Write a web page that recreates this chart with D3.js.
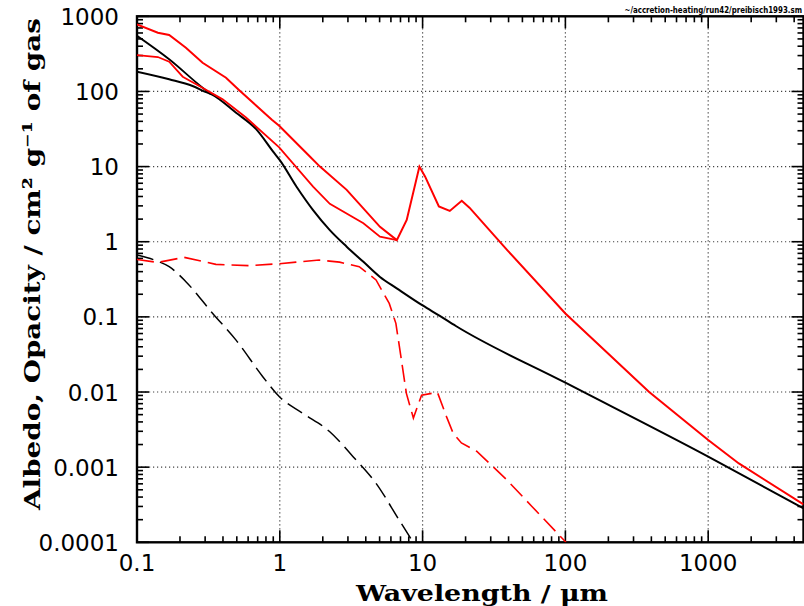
<!DOCTYPE html>
<html><head><meta charset="utf-8">
<script src="https://d3js.org/d3.v7.min.js"></script>
<style>body{margin:0;background:#fff}svg{display:block}</style>
</head><body>
<svg id="c" width="804" height="606"></svg>
<script>
// ---- data ----
const redHiW = [0.1,0.14,0.168,0.22,0.288,0.42,0.52,0.88,0.99,1.61,1.91,2.94,5.03,6.6,7.74,9.5,10.4,13.0,15.5,18.8,21.3,39,100,386,1000,1640,4650];
const redHiV = [780,605,564,382,241,152,104,42,35,13.8,10,4.9,1.58,1.05,1.95,10.0,7.4,2.95,2.57,3.5,2.84,0.78,0.111,0.01,0.0023,0.00112,0.00032];
const redLoW = [0.1,0.14,0.168,0.209,0.273,0.398,0.58,0.99,1.71,2.24,3.85,5.03,6.6];
const redLoV = [305,287,249,157,118,78.5,45,18,5.4,3.2,1.76,1.17,1.05];
const blackHiW = [0.1,0.168,0.288,0.33];
const blackHiV = [550,268,112,92];
const blackW = [0.1,0.168,0.245,0.304,0.33,0.494,0.685,0.91,1.0,1.31,1.71,2.24,2.94,3.85,5.03,6.59,10,13.2,17.1,100,1000,4650];
const blackV = [183,145,118,98,92,52,31.3,15.3,12.2,5.4,2.64,1.43,0.86,0.54,0.34,0.24,0.142,0.103,0.0756,0.0133,0.00138,0.000283];
const redAlbW = [0.1,0.14,0.214,0.357,0.61,0.99,1.3,1.89,2.62,3.6,4.72,5.84,6.5,7.05,7.7,8.62,9.84,12.7,14.7,16.4,18.7,23.9,31.2,39.1,58.3,101];
const redAlbV = [0.58,0.53,0.62,0.50,0.48,0.51,0.535,0.57,0.535,0.466,0.31,0.151,0.082,0.0295,0.0096,0.0045,0.0091,0.0099,0.0047,0.0028,0.0021,0.00163,0.00101,0.00067,0.0003,0.0001];
const blackAlbW = [0.1,0.136,0.168,0.22,0.339,0.494,0.76,0.99,1.45,2.22,3.26,4.72,6.85,8.6];
const blackAlbV = [0.665,0.56,0.466,0.294,0.111,0.049,0.016,0.0087,0.0052,0.003,0.00138,0.00061,0.000198,0.0001];
const xTickLabels = ["0.1","1","10","100","1000"];
const yTickLabels = ["0.0001","0.001","0.01","0.1","1","10","100","1000"];
const xTitle = "Wavelength / \u03bcm";
const yTitle = "Albedo, Opacity / cm\u00b2 g\u207b\u00b9 of gas";
const fileLabel = "~/accretion-heating/run42/preibisch1993.sm";

// ---- layout ----
const svg = d3.select("#c");
const L=137, R=803.5, T=16.3, B=542.3;
const x = d3.scaleLog().domain([0.1, 4650]).range([L, R]);
const y = d3.scaleLog().domain([1e-4, 1e3]).range([B, T]);

svg.append("defs").append("clipPath").attr("id","clip")
  .append("rect").attr("x",L).attr("y",T).attr("width",R-L).attr("height",B-T);

// grid
const gx = [1,10,100,1000];
const gy = [0.001,0.01,0.1,1,10,100];
const grid = svg.append("g").attr("stroke","#444").attr("stroke-width",1.2).attr("stroke-dasharray","1.2,2.8");
grid.selectAll("line.gx").data(gx).join("line").attr("x1",d=>x(d)).attr("x2",d=>x(d)).attr("y1",T).attr("y2",B);
grid.selectAll("line.gy").data(gy).join("line").attr("x1",L).attr("x2",R).attr("y1",d=>y(d)).attr("y2",d=>y(d));

// ticks
function logTicks(lo, hi){
  const out=[];
  for(let e=Math.floor(Math.log10(lo)); e<=Math.ceil(Math.log10(hi)); e++){
    for(let k=1;k<=9;k++){const v=k*Math.pow(10,e); if(v>=lo*0.999 && v<=hi*1.001) out.push({v, major:k===1});}
  }
  return out;
}
const xt = logTicks(0.1, 4650), yt = logTicks(1e-4, 1e3);
const tk = svg.append("g").attr("stroke","#000").attr("stroke-width",1.6);
tk.selectAll("line.xb").data(xt).join("line").attr("x1",d=>x(d.v)).attr("x2",d=>x(d.v)).attr("y1",B).attr("y2",d=>B-(d.major?12:6));
tk.selectAll("line.xt").data(xt).join("line").attr("x1",d=>x(d.v)).attr("x2",d=>x(d.v)).attr("y1",T).attr("y2",d=>T+(d.major?12:6));
tk.selectAll("line.yl").data(yt).join("line").attr("y1",d=>y(d.v)).attr("y2",d=>y(d.v)).attr("x1",L).attr("x2",d=>L+(d.major?12:6));
tk.selectAll("line.yr").data(yt).join("line").attr("y1",d=>y(d.v)).attr("y2",d=>y(d.v)).attr("x1",R).attr("x2",d=>R-(d.major?12:6));

// frame
svg.append("rect").attr("x",L).attr("y",T).attr("width",R-L).attr("height",B-T)
  .attr("fill","none").attr("stroke","#000").attr("stroke-width",2.4);

// curves
const zip=(w,v)=>w.map((d,i)=>({w:d,v:v[i]}));
const lin = d3.line().x(d=>x(d.w)).y(d=>y(d.v));
const smooth = d3.line().x(d=>x(d.w)).y(d=>y(d.v)).curve(d3.curveMonotoneX);
const cg = svg.append("g").attr("clip-path","url(#clip)").attr("fill","none");
cg.append("path").attr("d",smooth(zip(blackAlbW,blackAlbV))).attr("stroke","#000").attr("stroke-width",1.5).attr("stroke-dasharray","17,7");
cg.append("path").attr("d",lin(zip(redAlbW,redAlbV))).attr("stroke","#f00").attr("stroke-width",1.6).attr("stroke-dasharray","17,7");
cg.append("path").attr("d",smooth(zip(blackW,blackV))).attr("stroke","#000").attr("stroke-width",2);
cg.append("path").attr("d",smooth(zip(blackHiW,blackHiV))).attr("stroke","#000").attr("stroke-width",1.8);
cg.append("path").attr("d",lin(zip(redLoW,redLoV))).attr("stroke","#f00").attr("stroke-width",1.8);
cg.append("path").attr("d",lin(zip(redHiW,redHiV))).attr("stroke","#f00").attr("stroke-width",2);

// tick labels
const fnt = "'DejaVu Sans', sans-serif";
const xMaj = [0.1,1,10,100,1000];
svg.append("g").selectAll("text").data(xTickLabels).join("text")
  .attr("x",(d,i)=>x(xMaj[i])).attr("y",571).attr("text-anchor","middle")
  .attr("font-family",fnt).attr("font-size",23).text(d=>d);
const yMaj = [1e-4,1e-3,1e-2,0.1,1,10,100,1000];
svg.append("g").selectAll("text").data(yTickLabels).join("text")
  .attr("x",119).attr("y",(d,i)=>y(yMaj[i])+8.5).attr("text-anchor","end")
  .attr("font-family",fnt).attr("font-size",23).text(d=>d);

// titles
const tf = "'DejaVu Serif', serif";
svg.append("text").attr("x",356).attr("y",601).attr("font-family",tf).attr("font-weight","bold")
  .attr("font-size",23).attr("textLength",252).attr("lengthAdjust","spacingAndGlyphs").text(xTitle);
svg.append("text").attr("transform","translate(40,510) rotate(-90)").attr("x",0).attr("y",0)
  .attr("font-family",tf).attr("font-weight","bold").attr("font-size",23)
  .attr("textLength",492).attr("lengthAdjust","spacingAndGlyphs").text(yTitle);
svg.append("g").attr("transform","translate(802,12.5) scale(0.75,1)")
  .append("text").attr("x",0).attr("y",0).attr("text-anchor","end")
  .attr("font-family",fnt).attr("font-weight","bold").attr("font-size",9.4).text(fileLabel);
</script>
</body></html>
